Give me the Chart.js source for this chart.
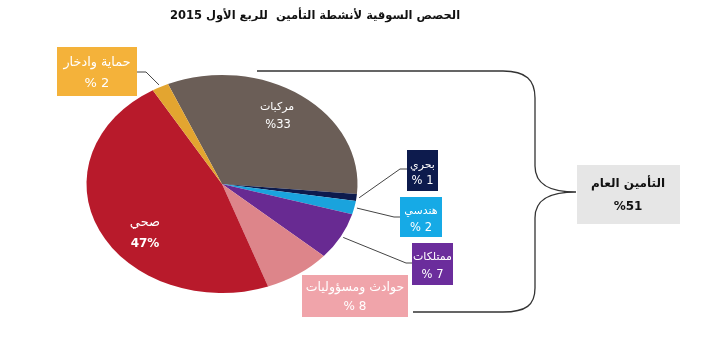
<!DOCTYPE html>
<html><head><meta charset="utf-8">
<script src="https://cdn.jsdelivr.net/npm/chart.js@4/dist/chart.umd.min.js"></script>
<style>html,body{margin:0;padding:0;background:#fff;} canvas{display:block;}</style>
</head><body>
<canvas id="c" width="702" height="351"></canvas>
<script>
const title = 'الحصص السوقية لأنشطة التأمين  للربع الأول 2015';
const categories = ['مركبات','بحري','هندسي','ممتلكات','حوادث ومسؤوليات','صحي','حماية وادخار'];
const shares = [33, 1, 2, 7, 8, 47, 2];
const shareLabels = ['%33','% 1','% 2','% 7','% 8','47%','% 2'];
const groupLabel = 'التأمين العام';
const groupShareLabel = '%51';
const sliceColors = ['#6b5e57','#0d1b4d','#1aa3dd','#682a92','#dd858a','#b81a2b','#e3a530'];
const boxColors = [null,'#0d1b4d','#16aae6','#6b2d9c','#f0a4aa',null,'#f4b23a'];

const SQUASH = 0.805;
const AR = '"DejaVu Sans", sans-serif';

function edgePoint(chart, i, k) {
  const a = chart.getDatasetMeta(0).data[i];
  const ang = (a.startAngle + a.endAngle) / 2;
  const r = a.outerRadius * (k || 1);
  return {x: a.x + r * Math.cos(ang), y: a.y + r * Math.sin(ang) * SQUASH};
}

const squash = {
  id: 'squash',
  beforeDatasetsDraw(chart) {
    const a = chart.getDatasetMeta(0).data[0];
    const ctx = chart.ctx;
    ctx.save();
    ctx.translate(a.x, a.y); ctx.scale(1, SQUASH); ctx.translate(-a.x, -a.y);
  },
  afterDatasetsDraw(chart) { chart.ctx.restore(); }
};

function txt(ctx, s, x, y, font, color, dir) {
  ctx.font = font; ctx.fillStyle = color; ctx.textAlign = 'center';
  ctx.textBaseline = 'middle'; ctx.direction = dir || 'rtl';
  ctx.fillText(s, x, y);
}

const annotations = {
  id: 'annotations',
  afterDraw(chart) {
    const ctx = chart.ctx;
    ctx.save();
    // title
    txt(ctx, title, 315, 16, 'bold 11.5px ' + AR, '#111', 'rtl');

    // inside labels
    txt(ctx, categories[0], 277, 107, '11px ' + AR, '#fff');
    txt(ctx, shareLabels[0], 278, 125, '11.5px ' + AR, '#fff', 'ltr');
    txt(ctx, categories[5], 145, 223, '13px ' + AR, '#fff');
    txt(ctx, shareLabels[5], 145, 244, 'bold 12px ' + AR, '#fff', 'ltr');

    // boxes: [index, x, y, w, h, y1, y2, labelSize, pctSize]
    const boxes = [
      [6, 57, 47, 80, 49, 63, 84, 12.8, 13],
      [1, 407, 150, 31, 41, 165, 181, 11, 11.5],
      [2, 400, 197, 42, 40, 211, 228, 11, 11.5],
      [3, 412, 243, 41, 42, 257, 275, 11, 11.5],
      [4, 302, 275, 106, 42, 288, 307, 12.5, 12]
    ];
    boxes.forEach(b => {
      const [i, x, y, w, h, y1, y2, fs1, fs2] = b;
      ctx.fillStyle = boxColors[i];
      ctx.fillRect(x, y, w, h);
      txt(ctx, categories[i], x + w / 2, y1, fs1 + 'px ' + AR, '#fff');
      txt(ctx, shareLabels[i], x + w / 2, y2, fs2 + 'px ' + AR, '#fff', 'ltr');
    });

    // leader lines
    ctx.strokeStyle = '#444'; ctx.lineWidth = 1;
    const leaders = [
      [6, [[146, 72], [137, 72]]],
      [1, [[400, 169], [407, 169]]],
      [2, [[394, 217], [400, 217]]],
      [3, [[406, 263], [412, 263]]]
    ];
    leaders.forEach(l => {
      const p = edgePoint(chart, l[0], 1.02);
      ctx.beginPath(); ctx.moveTo(p.x, p.y);
      l[1].forEach(q => ctx.lineTo(q[0], q[1]));
      ctx.stroke();
    });

    // brace
    ctx.strokeStyle = '#333'; ctx.lineWidth = 1.3;
    ctx.beginPath();
    ctx.moveTo(257, 71);
    ctx.lineTo(503, 71);
    ctx.bezierCurveTo(526, 71, 535, 80, 535, 98);
    ctx.lineTo(535, 166);
    ctx.bezierCurveTo(535, 186, 552, 192, 576, 192);
    ctx.bezierCurveTo(552, 192, 535, 198, 535, 218);
    ctx.lineTo(535, 288);
    ctx.bezierCurveTo(535, 305, 526, 312, 503, 312);
    ctx.lineTo(413, 312);
    ctx.stroke();

    // group box
    ctx.fillStyle = '#e6e6e6';
    ctx.fillRect(577, 165, 103, 59);
    txt(ctx, groupLabel, 628, 184, 'bold 12px ' + AR, '#111');
    txt(ctx, groupShareLabel, 628, 207, 'bold 12px ' + AR, '#111', 'ltr');
    ctx.restore();
  }
};

new Chart(document.getElementById('c'), {
  type: 'pie',
  data: {
    labels: categories,
    datasets: [{ data: shares, backgroundColor: sliceColors, borderWidth: 0 }]
  },
  options: {
    responsive: false,
    devicePixelRatio: 1,
    animation: false,
    rotation: -23.5,
    layout: { padding: { left: 86.5, right: 344.5, top: 48.5, bottom: 31.5 } },
    plugins: { legend: { display: false }, tooltip: { enabled: false }, title: { display: false } }
  },
  plugins: [squash, annotations]
});
</script>
</body></html>
